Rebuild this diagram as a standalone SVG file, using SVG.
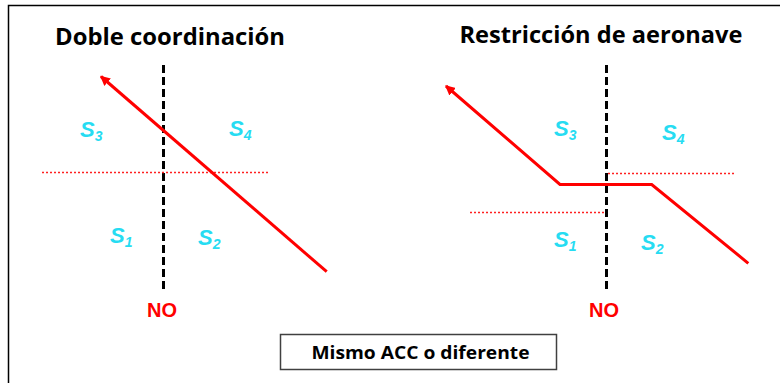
<svg xmlns="http://www.w3.org/2000/svg" width="780" height="383" viewBox="0 0 780 383">
<style>
.title{font-family:"Open Sans","Liberation Sans",sans-serif;font-weight:bold;font-size:23px;fill:#000;text-anchor:middle}
.sec{font-family:"Liberation Sans",Arial,sans-serif;font-weight:bold;font-style:italic;font-size:22px;fill:#26DCF2}
.sub{font-size:14px}
.no{font-family:"Liberation Sans",Arial,sans-serif;font-weight:bold;font-size:20px;fill:#FF0000;text-anchor:middle}
.dash{stroke:#000;stroke-width:3;stroke-dasharray:8 4;fill:none}
.dot{stroke:#FF2020;stroke-width:1.6;stroke-dasharray:2 2;fill:none}
.route{stroke:#FF0000;stroke-width:3;fill:none;stroke-linejoin:miter}
.box{fill:#fff;stroke:#404040;stroke-width:1.5}
.label{font-family:"Open Sans","Liberation Sans",sans-serif;font-weight:bold;font-size:18px;fill:#000;text-anchor:middle}
</style>
<defs>
<marker id="ah" markerWidth="10" markerHeight="10" refX="7" refY="4" orient="auto" markerUnits="userSpaceOnUse" viewBox="0 0 8 8">
<path d="M0,0 L8,4 L0,8 Z" fill="#FF0000"/>
</marker>
</defs>
<rect width="780" height="383" fill="#fff"/>
<path d="M8.5,383 V5.5 H780" fill="none" stroke="#000" stroke-width="1.5"/>

<g id="left-panel">
<text class="title" x="170" y="45" textLength="230" lengthAdjust="spacingAndGlyphs">Doble coordinación</text>
<line class="dash" x1="163.5" y1="65" x2="163.5" y2="292"/>
<line class="dot" x1="42" y1="172.5" x2="270" y2="172.5"/>
<text class="sec" x="80" y="137">S<tspan class="sub" dy="4">3</tspan></text>
<text class="sec" x="229" y="136">S<tspan class="sub" dy="4">4</tspan></text>
<text class="sec" x="110" y="243">S<tspan class="sub" dy="4">1</tspan></text>
<text class="sec" x="198" y="245">S<tspan class="sub" dy="4">2</tspan></text>
<text class="no" x="162" y="317">NO</text>
</g>

<g id="right-panel">
<text class="title" x="601" y="43" textLength="283" lengthAdjust="spacingAndGlyphs">Restricción de aeronave</text>
<line class="dash" x1="606.5" y1="65" x2="606.5" y2="290"/>
<line class="dot" x1="608" y1="173.5" x2="735" y2="173.5"/>
<line class="dot" x1="470" y1="212.5" x2="605" y2="212.5"/>
<text class="sec" x="554" y="136">S<tspan class="sub" dy="4">3</tspan></text>
<text class="sec" x="662" y="140">S<tspan class="sub" dy="4">4</tspan></text>
<text class="sec" x="554" y="247">S<tspan class="sub" dy="4">1</tspan></text>
<text class="sec" x="641" y="250">S<tspan class="sub" dy="4">2</tspan></text>
<text class="no" x="604" y="317">NO</text>
</g>

<g id="connectors">
<line class="route" x1="326.7" y1="271.7" x2="101" y2="76.5" marker-end="url(#ah)"/>
<polyline class="route" points="748.3,263.3 651.7,184.5 560,184.5 446,86" marker-end="url(#ah)"/>
</g>

<g id="caption">
<rect class="box" x="280.5" y="334.5" width="276" height="35"/>
<text class="label" x="420.5" y="358.5" textLength="218" lengthAdjust="spacingAndGlyphs">Mismo ACC o diferente</text>
</g>
</svg>
